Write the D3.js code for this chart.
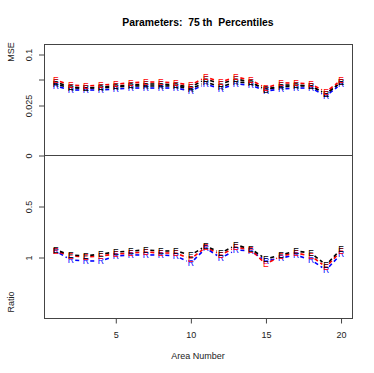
<!DOCTYPE html>
<html>
<head>
<meta charset="utf-8">
<script src="https://cdn.jsdelivr.net/npm/d3@7"></script>
<style>
  body { margin: 0; background: #fff; }
  svg { font-family: "Liberation Sans", Arial, sans-serif; }
</style>
</head>
<body>
<svg></svg>
<script>

// area numbers on the x axis
var areaNumbers = [1, 2, 3, 4, 5, 6, 7, 8, 9, 10, 11, 12, 13, 14, 15, 16, 17, 18, 19, 20];

// top panel: MSE
var mseRedE   = [0.0490, 0.0442, 0.0433, 0.0442, 0.0452, 0.0462, 0.0471, 0.0471, 0.0462, 0.0442,
                 0.0540, 0.0471, 0.0540, 0.0490, 0.0413, 0.0462, 0.0462, 0.0452, 0.0375, 0.0490];
var mseBlackE = [0.0471, 0.0423, 0.0413, 0.0423, 0.0433, 0.0442, 0.0452, 0.0452, 0.0442, 0.0423,
                 0.0500, 0.0452, 0.0500, 0.0471, 0.0394, 0.0442, 0.0442, 0.0433, 0.0356, 0.0471];
var mseBlackR = [0.0452, 0.0413, 0.0413, 0.0413, 0.0423, 0.0433, 0.0433, 0.0433, 0.0433, 0.0404,
                 0.0471, 0.0423, 0.0471, 0.0462, 0.0404, 0.0423, 0.0433, 0.0433, 0.0356, 0.0471];
var mseBlueR  = [0.0433, 0.0394, 0.0394, 0.0394, 0.0404, 0.0413, 0.0413, 0.0413, 0.0413, 0.0385,
                 0.0452, 0.0404, 0.0452, 0.0442, 0.0385, 0.0404, 0.0413, 0.0413, 0.0337, 0.0452];

// bottom panel: Ratio
var ratioBlackE = [0.931, 0.980, 0.990, 0.971, 0.951, 0.941, 0.931, 0.941, 0.941, 0.980,
                   0.892, 0.961, 0.882, 0.922, 1.020, 0.980, 0.941, 0.961, 1.078, 0.922];
var ratioRedE   = [0.941, 0.990, 1.000, 0.990, 0.971, 0.961, 0.951, 0.961, 0.961, 1.020,
                   0.902, 0.980, 0.902, 0.931, 1.069, 0.990, 0.961, 0.990, 1.098, 0.941];
var ratioBlueR  = [0.941, 1.029, 1.039, 1.039, 0.990, 0.980, 0.980, 0.980, 0.990, 1.059,
                   0.912, 1.010, 0.931, 0.941, 1.039, 1.010, 0.980, 1.029, 1.127, 0.971];

// tick labels
var xTicks = [5, 10, 15, 20];
var mseTicks = [0, 0.025, 0.05, 0.1];
var mseTickLabels = ["0", "0.025", "", "0.1"];
var ratioTicks = [0.5, 1];
var ratioTickLabels = ["0.5", "1"];


var svgWidth = 374;
var svgHeight = 373;
var plotLeft = 44, plotRight = 352, plotTop = 44, plotBottom = 318;

var svg = d3.select('svg')
    .attr("width", svgWidth)
    .attr("height", svgHeight);

var xScale = d3.scaleLinear()
    .domain([0.22, 20.73])
    .range([plotLeft, plotRight]);

// MSE is drawn on a stretched scale above the zero line
var mseScale = d3.scaleLinear()
    .domain(mseTicks)
    .range([155, 105, 79, 54]);

// Ratio grows downwards below the zero line
var ratioScale = d3.scaleLinear()
    .domain([0, 1])
    .range([155, 257]);

// title
svg.append("text")
    .attr("x", 198)
    .attr("y", 26)
    .attr("text-anchor", "middle")
    .attr("font-size", "10.4px")
    .attr("font-weight", "bold")
    .style("white-space", "pre")
    .text("Parameters:  75 th  Percentiles");

// box and zero line
svg.append("rect")
    .attr("x", plotLeft + 0.5)
    .attr("y", plotTop + 0.5)
    .attr("width", plotRight - plotLeft)
    .attr("height", plotBottom - plotTop)
    .attr("fill", "none")
    .attr("stroke", "#444");

svg.append("line")
    .attr("x1", plotLeft)
    .attr("x2", plotRight)
    .attr("y1", ratioScale(0) + 0.5)
    .attr("y2", ratioScale(0) + 0.5)
    .attr("stroke", "#444");

// y axes (labels rotated like R)
function styleYAxis(g, labels) {
    g.select(".domain").remove();
    g.selectAll(".tick line").attr("stroke", "#444");
    g.selectAll(".tick text")
        .attr("x", null)
        .attr("dy", null)
        .attr("text-anchor", "middle")
        .attr("font-size", "9px")
        .attr("fill", "#222")
        .attr("transform", "translate(-12,0) rotate(-90)")
        .text(function(d, i) { return labels[i]; });
}

svg.append("g")
    .attr("transform", "translate(" + plotLeft + ",0.5)")
    .call(d3.axisLeft(mseScale).tickValues(mseTicks).tickSize(5))
    .call(styleYAxis, mseTickLabels);

svg.append("g")
    .attr("transform", "translate(" + plotLeft + ",0.5)")
    .call(d3.axisLeft(ratioScale).tickValues(ratioTicks).tickSize(5))
    .call(styleYAxis, ratioTickLabels);

// x axis
var xAxis = svg.append("g")
    .attr("transform", "translate(0," + (plotBottom + 0.5) + ")")
    .call(d3.axisBottom(xScale).tickValues(xTicks).tickSize(5).tickPadding(8));
xAxis.select(".domain").remove();
xAxis.selectAll(".tick line").attr("stroke", "#444");
xAxis.selectAll(".tick text")
    .attr("font-size", "9px")
    .attr("fill", "#222");

// axis titles
svg.append("text")
    .attr("x", 198)
    .attr("y", 359)
    .attr("text-anchor", "middle")
    .attr("font-size", "9px")
    .attr("fill", "#222")
    .text("Area Number");

svg.append("text")
    .attr("transform", "translate(14,52) rotate(-90)")
    .attr("text-anchor", "middle")
    .attr("font-size", "9px")
    .attr("fill", "#222")
    .text("MSE");

svg.append("text")
    .attr("transform", "translate(14,302) rotate(-90)")
    .attr("text-anchor", "middle")
    .attr("font-size", "9px")
    .attr("fill", "#222")
    .text("Ratio");

// type="b" style: dashed segments with gaps, letters at the points
var gap = 4.5;
function drawSeries(values, yScale, color, letter) {
    var pts = values.map(function(v, i) {
        return [xScale(areaNumbers[i]), yScale(v)];
    });
    var segs = [];
    for (var i = 0; i < pts.length - 1; i++) {
        var dx = pts[i + 1][0] - pts[i][0];
        var dy = pts[i + 1][1] - pts[i][1];
        var len = Math.sqrt(dx * dx + dy * dy);
        if (len > 2 * gap) {
            segs.push([pts[i][0] + dx / len * gap, pts[i][1] + dy / len * gap,
                       pts[i + 1][0] - dx / len * gap, pts[i + 1][1] - dy / len * gap]);
        }
    }
    var g = svg.append("g");
    g.selectAll("line")
        .data(segs)
        .enter()
        .append("line")
        .attr("x1", function(d) { return d[0]; })
        .attr("y1", function(d) { return d[1]; })
        .attr("x2", function(d) { return d[2]; })
        .attr("y2", function(d) { return d[3]; })
        .attr("stroke", color)
        .attr("stroke-width", 1.6)
        .attr("stroke-dasharray", "4,3");
    g.selectAll("text")
        .data(pts)
        .enter()
        .append("text")
        .attr("x", function(d) { return d[0]; })
        .attr("y", function(d) { return d[1] + 3; })
        .attr("text-anchor", "middle")
        .attr("font-size", "8.5px")
        .attr("fill", color)
        .text(letter);
}

drawSeries(mseBlueR, mseScale, "#0000ff", "R");
drawSeries(mseBlackR, mseScale, "#000000", "R");
drawSeries(mseBlackE, mseScale, "#000000", "E");
drawSeries(mseRedE, mseScale, "#ff0000", "E");

drawSeries(ratioBlueR, ratioScale, "#0000ff", "R");
drawSeries(ratioRedE, ratioScale, "#ff0000", "E");
drawSeries(ratioBlackE, ratioScale, "#000000", "E");

</script>
</body>
</html>
